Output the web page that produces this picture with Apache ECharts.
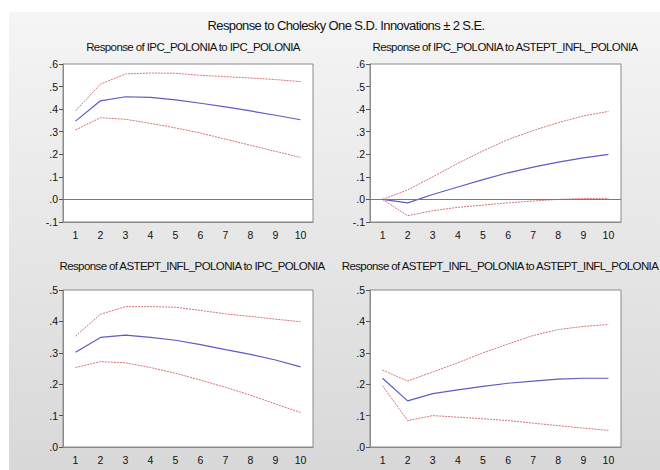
<!DOCTYPE html>
<html>
<head>
<meta charset="utf-8">
<script src="https://cdn.jsdelivr.net/npm/echarts@6/dist/echarts.min.js"></script>
<style>
  html, body { margin: 0; padding: 0; background: #fff; }
  #chart { width: 660px; height: 470px; }
  #chart svg text[style*="11.5px"], #chart svg text[style*="13px"] { letter-spacing: -0.6px; }
</style>
</head>
<body>
<div id="chart"></div>
<script>
// periods after the shock
const periods = ['1', '2', '3', '4', '5', '6', '7', '8', '9', '10'];

// Response of IPC_POLONIA to IPC_POLONIA
const ipcIpcMid = [0.347, 0.437, 0.455, 0.452, 0.441, 0.426, 0.410, 0.392, 0.373, 0.353];
const ipcIpcUp  = [0.392, 0.511, 0.556, 0.560, 0.559, 0.550, 0.544, 0.538, 0.531, 0.522];
const ipcIpcLo  = [0.308, 0.362, 0.355, 0.337, 0.317, 0.294, 0.267, 0.240, 0.213, 0.186];

// Response of IPC_POLONIA to ASTEPT_INFL_POLONIA
const ipcInflMid = [0.000, -0.015, 0.022, 0.055, 0.088, 0.118, 0.143, 0.165, 0.184, 0.200];
const ipcInflUp  = [0.000, 0.042, 0.100, 0.160, 0.215, 0.265, 0.305, 0.340, 0.370, 0.390];
const ipcInflLo  = [0.000, -0.072, -0.050, -0.035, -0.025, -0.015, -0.007, 0.000, 0.004, 0.005];

// Response of ASTEPT_INFL_POLONIA to IPC_POLONIA
const inflIpcMid = [0.302, 0.349, 0.356, 0.349, 0.340, 0.326, 0.310, 0.295, 0.277, 0.255];
const inflIpcUp  = [0.353, 0.423, 0.447, 0.447, 0.445, 0.435, 0.424, 0.416, 0.407, 0.399];
const inflIpcLo  = [0.253, 0.272, 0.268, 0.253, 0.235, 0.213, 0.190, 0.165, 0.137, 0.110];

// Response of ASTEPT_INFL_POLONIA to ASTEPT_INFL_POLONIA
const inflInflMid = [0.219, 0.147, 0.170, 0.182, 0.193, 0.203, 0.210, 0.216, 0.219, 0.219];
const inflInflUp  = [0.245, 0.210, 0.239, 0.268, 0.300, 0.328, 0.355, 0.374, 0.384, 0.390];
const inflInflLo  = [0.195, 0.084, 0.100, 0.095, 0.090, 0.084, 0.076, 0.068, 0.060, 0.053];

const font = '"Liberation Sans", Arial, sans-serif';
const blue = '#5c5cc4';
const red = '#d47272';

const panels = [
  { title: 'Response of IPC_POLONIA to IPC_POLONIA', grid: { left: 63, top: 64, width: 250, height: 158 },
    min: -0.1, max: 0.6, zero: true, mid: ipcIpcMid, up: ipcIpcUp, lo: ipcIpcLo, tx: 188, ty: 46 },
  { title: 'Response of IPC_POLONIA to ASTEPT_INFL_POLONIA', grid: { left: 370, top: 64, width: 251, height: 158 },
    min: -0.1, max: 0.6, zero: true, mid: ipcInflMid, up: ipcInflUp, lo: ipcInflLo, tx: 500, ty: 46 },
  { title: 'Response of ASTEPT_INFL_POLONIA to IPC_POLONIA', grid: { left: 63, top: 290, width: 250, height: 157 },
    min: 0, max: 0.5, zero: false, mid: inflIpcMid, up: inflIpcUp, lo: inflIpcLo, tx: 187, ty: 265 },
  { title: 'Response of ASTEPT_INFL_POLONIA to ASTEPT_INFL_POLONIA', grid: { left: 370, top: 290, width: 251, height: 157 },
    min: 0, max: 0.5, zero: false, mid: inflInflMid, up: inflInflUp, lo: inflInflLo, tx: 495, ty: 265 }
];

const fmt = v => v.toFixed(1).replace('0.', '.');

const option = {
  animation: false,
  title: [{
    text: 'Response to Cholesky One S.D. Innovations \u00b1 2 S.E.',
    left: 341, top: 14, textAlign: 'center',
    textStyle: { fontFamily: font, fontSize: 13, fontWeight: 'normal', color: '#111' }
  }],
  graphic: [{
    type: 'rect', z: -10, silent: true,
    shape: { x: 9, y: 12, width: 651, height: 458 },
    style: { fill: new echarts.graphic.LinearGradient(0, 0, 0, 1, [
      { offset: 0, color: '#f5f5f5' }, { offset: 1, color: '#d8d8d8' }
    ]) }
  }],
  grid: [], xAxis: [], yAxis: [], series: []
};

panels.forEach((p, i) => {
  option.title.push({
    text: p.title, left: p.tx, top: p.ty - 10, textAlign: 'center',
    textStyle: { fontFamily: font, fontSize: 11.5, fontWeight: 'normal', color: '#111' }
  });
  option.grid.push(Object.assign({ show: true, backgroundColor: '#fff', borderColor: '#8a8a8a', borderWidth: 1 }, p.grid));
  option.xAxis.push({
    type: 'category', gridIndex: i, data: periods, boundaryGap: true,
    axisLine: { onZero: false, lineStyle: { color: '#8a8a8a' } },
    axisTick: { length: 4, lineStyle: { color: '#555' } },
    axisLabel: { margin: 7, color: '#111', fontFamily: font, fontSize: 10.5 },
    splitLine: { show: false }
  });
  option.yAxis.push({
    type: 'value', gridIndex: i, min: p.min, max: p.max, interval: 0.1,
    axisLine: { show: true, lineStyle: { color: '#8a8a8a' } },
    axisTick: { show: true, length: 4, lineStyle: { color: '#555' } },
    axisLabel: { margin: 5, color: '#111', fontFamily: font, fontSize: 10.5, formatter: fmt },
    splitLine: { show: false }
  });
  const mid = {
    type: 'line', xAxisIndex: i, yAxisIndex: i, data: p.mid, showSymbol: false, symbol: 'none',
    lineStyle: { color: blue, width: 1.2 }, z: 3
  };
  if (p.zero) {
    mid.markLine = {
      silent: true, symbol: 'none', label: { show: false },
      lineStyle: { color: '#7a7a7a', type: 'solid', width: 1 },
      data: [{ yAxis: 0 }]
    };
  }
  option.series.push(mid);
  [p.up, p.lo].forEach(d => option.series.push({
    type: 'line', xAxisIndex: i, yAxisIndex: i, data: d, showSymbol: false, symbol: 'none',
    lineStyle: { color: red, width: 1, type: [2, 1] }, z: 2
  }));
});

const chart = echarts.init(document.getElementById('chart'), null, { renderer: 'svg' });
chart.setOption(option);
</script>
</body>
</html>
